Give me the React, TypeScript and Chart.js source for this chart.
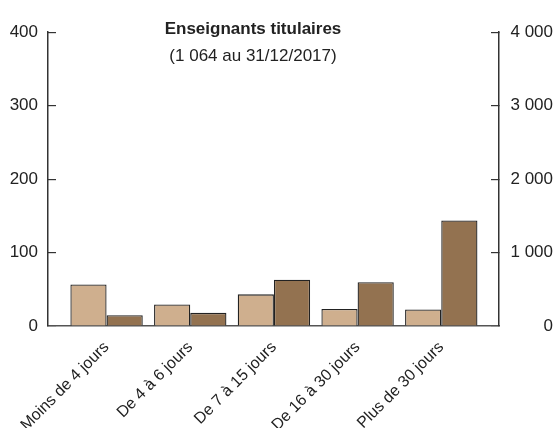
import React, { useEffect, useRef } from "react";
import { Chart, registerables } from "chart.js";

Chart.register(...registerables);

const categories = ["Moins de 4 jours", "De 4 à 6 jours", "De 7 à 15 jours", "De 16 à 30 jours", "Plus de 30 jours"];
const seriesLeft = [56.6, 29.2, 43.1, 23.3, 22.4];
const seriesRight = [148, 179, 629, 597, 1437];
const title = "Enseignants titulaires";
const subtitle = "(1 064 au 31/12/2017)";

const FONT = "'Liberation Sans', Arial, Helvetica, sans-serif";
const AXIS = "#333333";

const fmt = (v: number) => String(v).replace(/\B(?=(\d{3})+(?!\d))/g, " ");

const titlePlugin = {
  id: "innerTitle",
  afterDraw(chart: any) {
    const ctx = chart.ctx;
    ctx.save();
    ctx.fillStyle = "#222222";
    ctx.textAlign = "center";
    ctx.textBaseline = "middle";
    ctx.font = `bold 17px ${FONT}`;
    ctx.fillText(title, 253, 29);
    ctx.font = `17px ${FONT}`;
    ctx.fillText(subtitle, 253, 56);
    ctx.restore();
  },
};

export default function App() {
  const ref = useRef<HTMLCanvasElement>(null);
  useEffect(() => {
    document.body.style.margin = "0";
    const chart = new Chart(ref.current!, {
      type: "bar",
      data: {
        labels: categories.map((_, i) => i),
        datasets: [
          {
            data: seriesLeft,
            yAxisID: "yL",
            backgroundColor: "#CFAF8E",
            borderColor: "#222222",
            borderWidth: 1.3,
            categoryPercentage: 0.865,
            barPercentage: 1,
          },
          {
            data: seriesRight,
            yAxisID: "yR",
            backgroundColor: "#937250",
            borderColor: "#222222",
            borderWidth: 1.3,
            categoryPercentage: 0.865,
            barPercentage: 1,
          },
        ],
      },
      options: {
        animation: false,
        responsive: false,
        layout: { padding: { left: 8, right: 5, top: 29, bottom: 0 } },
        plugins: { legend: { display: false }, tooltip: { enabled: false } },
        scales: {
          x: {
            type: "linear",
            offset: false,
            min: -0.7,
            max: 4.69,
            afterBuildTicks: (s: any) => { s.ticks = categories.map((_, i) => ({ value: i })); },
            afterFit: (s: any) => { s.height = 102; },
            grid: { display: true, offset: false, drawOnChartArea: false, drawTicks: false },
            border: { display: true, color: "#555555", width: 1.5 },
            ticks: {
              stepSize: 1,
              includeBounds: false,
              autoSkip: false,
              maxRotation: 45,
              minRotation: 45,
              padding: 12,
              color: "#222222",
              font: { family: FONT, size: 16 },
              callback: (v: any) => (Number.isInteger(v) && categories[v] !== undefined ? categories[v] : ""),
            },
          },
          yL: {
            type: "linear",
            position: "left",
            min: 0,
            max: 400,
            afterFit: (s: any) => { s.width = 40; },
            grid: { drawOnChartArea: false, tickLength: -8, color: AXIS, lineWidth: 1.2 },
            border: { color: AXIS, width: 1.5 },
            ticks: {
              stepSize: 100,
              padding: 18,
              color: "#222222",
              font: { family: FONT, size: 17 },
            },
          },
          yR: {
            type: "linear",
            position: "right",
            min: 0,
            max: 4000,
            afterFit: (s: any) => { s.width = 54; },
            grid: { drawOnChartArea: false, tickLength: -8, color: AXIS, lineWidth: 1.2 },
            border: { color: AXIS, width: 1.5 },
            ticks: {
              stepSize: 1000,
              padding: 22,
              crossAlign: "far",
              color: "#222222",
              font: { family: FONT, size: 17 },
              callback: (v: any) => fmt(Number(v)),
            },
          },
        },
      },
      plugins: [titlePlugin],
    });
    return () => chart.destroy();
  }, []);
  return (
    <div style={{ width: 558, height: 428 }}>
      <canvas ref={ref} width={558} height={428} style={{ display: "block" }} />
    </div>
  );
}
